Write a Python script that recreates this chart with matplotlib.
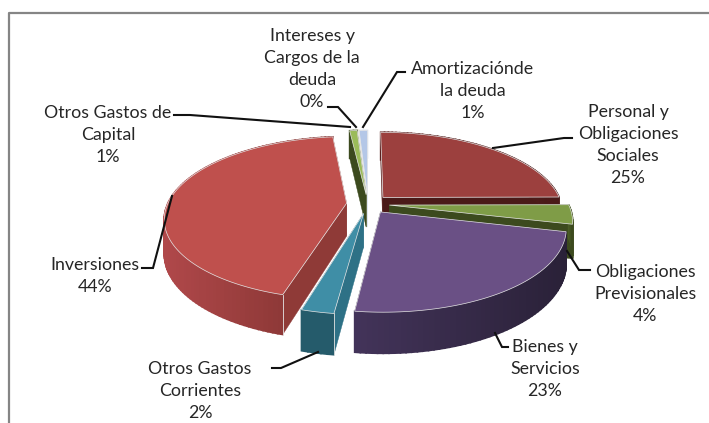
import matplotlib
matplotlib.use("Agg")
import matplotlib.pyplot as plt
from matplotlib.colors import to_rgb
import numpy as np

plt.rcParams['font.family'] = ['Lato', 'DejaVu Sans']

# clockwise from 12 o'clock
names = ["Personal y\nObligaciones\nSociales", "Obligaciones\nPrevisionales", "Bienes y\nServicios",
         "Otros Gastos\nCorrientes", "Inversiones", "Otros Gastos de\nCapital",
         "Intereses y\nCargos de la\ndeuda", "Amortizaciónde\nla deuda"]
values = [25.0, 3.8, 23.4, 2.4, 43.9, 0.8, 0.1, 0.9]

top_colors = ["#9c403e", "#7f9c47", "#6a5085", "#3f8ea6", "#bf504d", "#9bbb59", "#eee8c8", "#b4c7e7"]
start_colors = ["#5a201e", "#3c4a1e", "#2a2138", "#2e7186", "#8f3a37", "#3c4a1e", "#e8e4d0", "#dfe6f2"]
end_colors = ["#4a1a18", "#3c4a1e", "#2a2138", "#2e7186", "#8f3a37", "#3c4a1e", "#e8e4d0", "#dfe6f2"]
side_left = ["#5a201e", "#4a5c26", "#43345a", "#255b6b", "#b0484a", "#3c4a1e", "#e8e4d0", "#dfe6f2"]
side_right = ["#4a1a18", "#3c4a1e", "#2a2138", "#255b6b", "#813330", "#3c4a1e", "#e8e4d0", "#dfe6f2"]

draw_order = [0, 7, 6, 5, 1, 4, 2, 3]

label_x = [628, 645, 545, 200, 95, 108, 312, 473]
label_y = [145, 294, 369, 391, 276, 135, 69, 91]

leaders = [
    ([572, 564, 493], [138, 138, 148]),
    ([590, 579, 567], [270, 270, 251]),
    ([508, 502, 495], [347, 347, 333]),
    ([272, 281, 318], [368, 368, 352]),
    ([142, 153, 172], [268, 268, 196]),
    ([174, 190, 350], [115, 115, 127]),
    ([328, 338, 356], [107, 107, 127]),
    ([405, 397, 363], [72, 72, 127]),
]

cx, cy = 368, 204
rx, ry = 179, 79
persp = 0.18
depth = 33
explode = 0.12


def project(u, v):
    w = 1 + persp * v
    return cx + rx * u / w, cy - ry * v / w


def drop(v):
    return depth / (1 + persp * v)


def mix(a, b, t):
    a, b = np.array(to_rgb(a)), np.array(to_rgb(b))
    return tuple(a + (b - a) * t)


fig = plt.figure(figsize=(7.09, 4.23), dpi=100)
ax = fig.add_axes([0, 0, 1, 1])
ax.set_xlim(0, 709)
ax.set_ylim(423, 0)
ax.set_axis_off()

ax.plot([9, 9, 709], [423, 13, 13], color="#858585", lw=1.6, solid_capstyle="butt")

shares = np.array(values) / sum(values)
edges = np.concatenate([[0], np.cumsum(shares)]) * 2 * np.pi

for i in draw_order:
    a0, a1 = edges[i], edges[i + 1]
    mid = (a0 + a1) / 2
    ou, ov = explode * np.sin(mid), explode * np.cos(mid)
    t = np.linspace(a0, a1, max(3, int((a1 - a0) * 40)))
    u = ou + np.sin(t)
    v = ov + np.cos(t)
    x, y = project(u, v)
    d = drop(v)
    ax0, ay0 = project(ou, ov)
    ad = drop(ov)

    # cut faces
    ax.fill([ax0, x[0], x[0], ax0], [ay0, y[0], y[0] + d[0], ay0 + ad], color=start_colors[i], lw=0.3)
    ax.fill([ax0, x[-1], x[-1], ax0], [ay0, y[-1], y[-1] + d[-1], ay0 + ad], color=end_colors[i], lw=0.3)

    # rim, darker towards the right
    for j in range(len(t) - 1):
        tone = np.clip((x[j] - x.min()) / max(x.max() - x.min(), 1), 0, 1)
        c = mix(side_left[i], side_right[i], tone)
        ax.fill([x[j], x[j + 1], x[j + 1], x[j]], [y[j], y[j + 1], y[j + 1] + d[j + 1], y[j] + d[j]],
                color=c, lw=1.2)

    ax.fill(np.r_[ax0, x], np.r_[ay0, y], facecolor=top_colors[i], edgecolor="#e6e6e6", lw=0.5)
    if i in (3, 4):
        ax.plot([x[0], x[0]], [y[0], y[0] + d[0]], color="#e6e6e6", lw=0.6)

for xs, ys in leaders:
    ax.plot(xs, ys, color="#111111", lw=1.5, solid_joinstyle="miter")

for i in range(len(names)):
    ax.text(label_x[i], label_y[i], "%s\n%.0f%%" % (names[i], values[i]), ha="center", va="center",
            fontsize=12.8, color="#262626", linespacing=1.48)

fig.savefig("out.png", dpi=100)
